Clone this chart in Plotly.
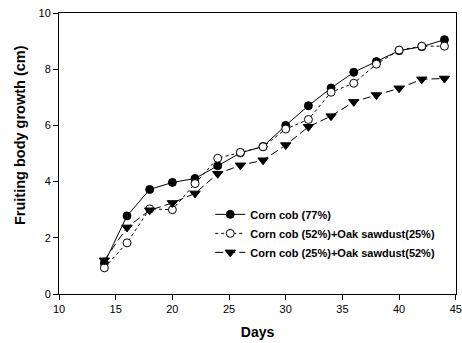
import plotly.graph_objects as go

days = [14, 16, 18, 20, 22, 24, 26, 28, 30, 32, 34, 36, 38, 40, 42, 44]
corn77 = [1.1, 2.78, 3.72, 3.97, 4.11, 4.56, 5.02, 5.25, 6.0, 6.7, 7.33, 7.89, 8.27, 8.66, 8.8, 9.05]
corn52_oak25 = [0.93, 1.82, 3.03, 3.0, 3.93, 4.83, 5.04, 5.24, 5.87, 6.21, 7.18, 7.5, 8.18, 8.68, 8.82, 8.82]
corn25_oak52 = [1.2, 2.37, 2.98, 3.24, 3.58, 4.28, 4.58, 4.76, 5.3, 5.95, 6.33, 6.84, 7.08, 7.32, 7.64, 7.67]

x_ticks = [10, 15, 20, 25, 30, 35, 40, 45]
y_ticks = [0, 2, 4, 6, 8, 10]

names = ["Corn cob (77%)", "Corn cob (52%)+Oak sawdust(25%)", "Corn cob (25%)+Oak sawdust(52%)"]
y_title = "Fruiting body growth (cm)"
x_title = "Days"

fig = go.Figure()
fig.add_trace(go.Scatter(x=days, y=corn77, name=names[0], mode="lines+markers",
                         line=dict(color="black", width=1, dash="solid"),
                         marker=dict(symbol="circle", size=8, color="black",
                                     line=dict(color="black", width=1))))
fig.add_trace(go.Scatter(x=days, y=corn52_oak25, name=names[1], mode="lines+markers",
                         line=dict(color="black", width=1, dash="dot"),
                         marker=dict(symbol="circle", size=8, color="white",
                                     line=dict(color="black", width=1))))
fig.add_trace(go.Scatter(x=days, y=corn25_oak52, name=names[2], mode="lines+markers",
                         line=dict(color="black", width=1, dash="8px,4px"),
                         marker=dict(symbol="triangle-down", size=9, color="black",
                                     line=dict(color="black", width=1))))

fig.update_layout(
    width=462, height=343,
    margin=dict(l=59, r=6, t=13, b=49),
    paper_bgcolor="white", plot_bgcolor="white",
    font=dict(family="Liberation Sans, Arial, sans-serif", size=11, color="black"),
    showlegend=True,
    legend=dict(x=0.381, y=0.335, xanchor="left", yanchor="top",
                bgcolor="rgba(0,0,0,0)", borderwidth=0,
                font=dict(size=11, family="Liberation Sans, Arial, sans-serif", weight="bold"),
                tracegroupgap=0, itemwidth=30),
    annotations=[dict(text="<b>" + y_title + "</b>", xref="paper", yref="paper",
                      x=-0.098, y=0.566, xanchor="center", yanchor="middle",
                      textangle=-90, showarrow=False,
                      font=dict(size=14.5, family="Liberation Sans, Arial, sans-serif"))],
)
fig.update_xaxes(range=[10, 45.02], tickmode="array", tickvals=x_ticks,
                 ticktext=[str(v) for v in x_ticks],
                 showgrid=False, zeroline=False, showline=True, linecolor="black",
                 linewidth=1, mirror=True, ticks="outside", ticklen=5, tickcolor="black",
                 tickfont=dict(size=11), automargin=False,
                 title=dict(text="<b>" + x_title + "</b>", font=dict(size=14), standoff=12))
fig.update_yaxes(range=[0, 10], tickmode="array", tickvals=y_ticks,
                 showgrid=False, zeroline=False, showline=True, linecolor="black",
                 linewidth=1, mirror=True, ticks="outside", ticklen=5, tickcolor="black",
                 tickfont=dict(size=11), automargin=False)

fig.write_html("out.html", config={"displayModeBar": False},
               post_script="document.body.style.margin='0';")
